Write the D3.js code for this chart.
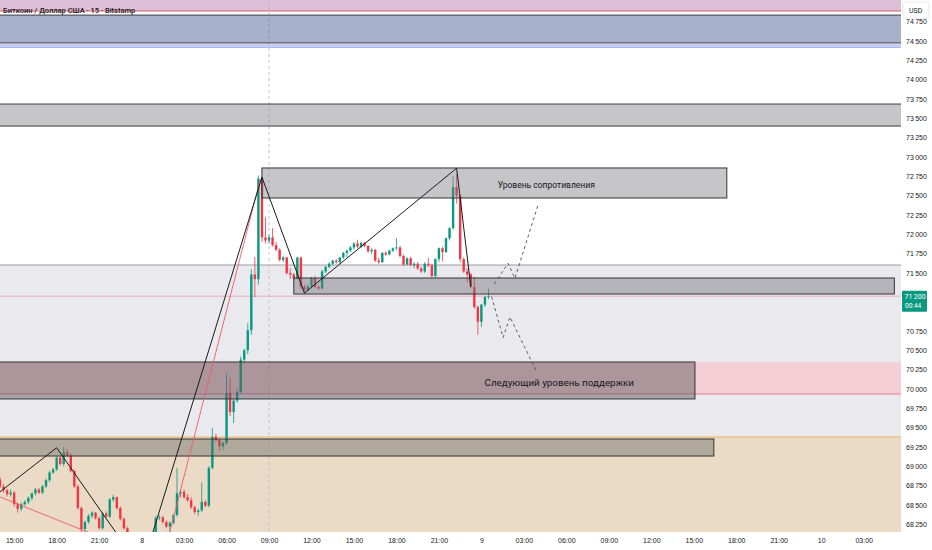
<!DOCTYPE html>
<html lang="ru">
<head>
<meta charset="UTF-8">
<title>Биткоин / Доллар США · 15</title>
<script src="https://d3js.org/d3.v7.min.js"></script>
<style>
  body { margin: 0; background: #fff; }
  svg { display: block; font-family: Roboto, 'Noto Sans', sans-serif; }
  .axis text { font-size: 7px; fill: #131722; }
  .axis path { display: none; }
</style>
</head>
<body>
<svg id="chart" width="932" height="550"></svg>
<script>
// 15 minute bars, first one opens 7 Apr 14:00 (UTC)
const firstBar = Date.UTC(2024, 3, 7, 14, 0);
const barMs = 15 * 60 * 1000;

const candleOpen = [
  68830,68740,68690,68640,68660,68510,68450,68510,68540,68590,
  68650,68700,68660,68740,68820,68920,68960,69110,69030,69180,
  69140,68940,68740,68460,68190,68280,68360,68400,68330,68200,
  68390,68350,68570,68600,68460,68320,68200,68130,68020,67980,
  68050,67970,68100,68040,68080,68330,68340,68280,68220,68270,
  68370,68650,68670,68600,68560,68470,68410,68430,68540,68490,
  68980,69380,69340,69260,69300,69950,69700,69850,69960,70380,
  70500,70760,71480,71420,72720,71960,71920,71960,71860,71800,
  71670,71700,71500,71480,71430,71700,71320,71280,71330,71430,
  71320,71300,71520,71580,71620,71660,71640,71700,71760,71790,
  71830,71880,71840,71890,71850,71780,71800,71660,71640,71760,
  71740,71790,71820,71830,71720,71610,71690,71600,71620,71560,
  71520,71620,71600,71460,71680,71820,71770,71950,72080,72610,
  72500,71680,71520,71480,71320,71060,70870,71090,71190
];
const candleHigh = [
  68860,68770,68710,68700,68680,68530,68530,68560,68610,68660,
  68720,68720,68760,68840,68940,68980,69130,69130,69250,69220,
  69170,68960,68760,68480,68300,68380,68420,68410,68350,68410,
  68420,68590,68630,68610,68480,68340,68220,68150,68130,68120,
  68110,68140,68145,68130,68360,68370,68360,68300,68290,68380,
  68980,68700,68700,68640,68600,68490,68450,68790,68560,69000,
  69500,69420,69360,69320,70200,70150,69880,70000,70420,70520,
  70850,71550,71710,72760,72740,72220,72000,72080,71900,71820,
  71720,71710,71560,71500,71710,71710,71350,71350,71450,71460,
  71340,71540,71590,71640,71670,71680,71710,71770,71800,71850,
  71900,71930,71900,71900,71860,71820,71810,71700,71770,71780,
  71800,71830,71950,71850,71740,71700,71710,71640,71640,71580,
  71640,71700,71620,71690,71830,71840,71960,72090,72750,72780,
  72520,71700,71560,71500,71450,71080,71100,71200,71300
];
const candleLow = [
  68720,68660,68610,68610,68480,68400,68420,68490,68510,68560,
  68620,68640,68640,68720,68800,68900,68940,69010,69000,69120,
  68920,68720,68440,68150,68160,68260,68330,68310,68180,68180,
  68330,68330,68540,68440,68300,68180,68110,67960,67920,67900,
  67930,67950,67980,67960,68060,68300,68260,68200,68150,68250,
  68350,68600,68580,68540,68450,68380,68360,68410,68470,68470,
  68960,69320,69200,69210,69280,69650,69560,69820,69940,70330,
  70450,70700,71190,71350,71900,71880,71880,71840,71780,71650,
  71640,71480,71420,71400,71420,71290,71240,71260,71300,71300,
  71280,71290,71500,71560,71600,71620,71620,71680,71700,71770,
  71800,71820,71820,71830,71760,71740,71640,71620,71630,71720,
  71730,71770,71790,71700,71590,71600,71590,71560,71540,71500,
  71500,71580,71440,71440,71640,71650,71760,71920,72060,72400,
  71640,71500,71380,71300,71040,70700,70800,71060,71160
];
const candleClose = [
  68740,68690,68640,68660,68510,68450,68510,68540,68590,68650,
  68700,68660,68740,68820,68920,68960,69110,69030,69180,69140,
  68940,68740,68460,68190,68280,68360,68400,68330,68200,68390,
  68350,68570,68600,68460,68320,68200,68130,68020,67980,68050,
  67970,68100,68040,68080,68330,68340,68280,68220,68270,68370,
  68650,68670,68600,68560,68470,68410,68430,68540,68490,68980,
  69380,69340,69260,69300,69950,69700,69850,69960,70380,70500,
  70760,71480,71420,72720,71960,71920,71960,71860,71800,71670,
  71700,71500,71480,71430,71700,71320,71280,71330,71430,71320,
  71300,71520,71580,71620,71660,71640,71700,71760,71790,71830,
  71880,71840,71890,71850,71780,71800,71660,71640,71760,71740,
  71790,71820,71830,71720,71610,71690,71600,71620,71560,71520,
  71620,71600,71460,71680,71820,71770,71950,72080,72610,72500,
  71680,71520,71480,71320,71060,70870,71090,71190,71200
];

// price scale labels (71 250 and 71 000 sit under the last price tag)
const priceTicks = [68250,68500,68750,69000,69250,69500,69750,70000,70250,70500,70750,
  71500,71750,72000,72250,72500,72750,73000,73250,73500,73750,74000,74250,74500,74750];
const lastPrice = 71200;
const barCountdown = "00:44";

// horizontal zones across the whole chart: [upper price, lower price]
const pinkTopFrom = 74888;
const blueZone = [74835, 74475];
const blueLines = [74448, 74420];
const grayZone = [73685, 73400];
const lightZone = [71603, 69379];
const pinkZone = [70349, 69935];
const tanFrom = 69379;

// drawn rectangles: [start time, end time, upper price, lower price]
const resistanceBox = ["2024-04-08T08:30", "2024-04-09T17:20", 72858, 72470];
const rangeBox = ["2024-04-08T10:45", "2024-04-10T05:10", 71435, 71228];
const supportBox = ["2024-04-07T12:00", "2024-04-09T15:05", 70349, 69871];
const lowerBox = ["2024-04-07T12:00", "2024-04-09T16:25", 69353, 69133];

// trend lines
const blackZigzag = [["2024-04-07T14:00", 68670], ["2024-04-07T18:00", 69240], ["2024-04-08T00:00", 67670],
  ["2024-04-08T08:30", 72740], ["2024-04-08T11:30", 71240], ["2024-04-08T22:15", 72855], ["2024-04-08T23:15", 71323]];
const redZigzag = [["2024-04-07T14:00", 68604], ["2024-04-08T01:27", 67763], ["2024-04-08T08:22", 72702]];
const upScenario = [["2024-04-09T00:55", 71360], ["2024-04-09T01:53", 71625], ["2024-04-09T02:22", 71431], ["2024-04-09T04:00", 72379]];
const downScenario = [["2024-04-09T00:43", 71194], ["2024-04-09T01:32", 70666], ["2024-04-09T02:01", 70931], ["2024-04-09T03:54", 70224]];
const markerTime = "2024-04-08T09:00";

const labels = [
  { text: "Уровень сопротивления", time: "2024-04-09T04:35", price: 72640, size: 8.5 },
  { text: "Следующий уровень поддержки", time: "2024-04-09T05:30", price: 70080, size: 9.8 }
];

const T = s => new Date(s + ":00Z");

const svg = d3.select("#chart");
const plotW = 901, plotH = 532;

const x = d3.scaleUtc()
  .domain([new Date(firstBar), new Date(Date.UTC(2024, 3, 10, 5, 36))])
  .range([0, 900.5]);
const y = d3.scaleLinear().domain([68250, 74500]).range([524.3, 41]);

svg.append("defs").append("clipPath").attr("id", "plot")
  .append("rect").attr("width", plotW).attr("height", plotH);

const plot = svg.append("g").attr("clip-path", "url(#plot)");

// background zones
const band = (top, bottom, fill) => plot.append("rect")
  .attr("x", 0).attr("width", plotW)
  .attr("y", y(top)).attr("height", y(bottom) - y(top)).attr("fill", fill);
const hline = (price, color, w) => plot.append("line")
  .attr("x1", 0).attr("x2", plotW).attr("y1", y(price)).attr("y2", y(price))
  .attr("stroke", color).attr("stroke-width", w);

band(76000, pinkTopFrom, "#dfbfd7");
hline(pinkTopFrom, "#e0606f", 1);
band(lightZone[0], lightZone[1], "#eaeaee");
hline(lightZone[0], "#9a9aa0", 1);
band(pinkZone[0], pinkZone[1], "#f4d0d6");
hline(pinkZone[1], "#e5788a", 1);
band(tanFrom, 66000, "#ebdbc6");
hline(tanFrom, "#f0b45a", 1.2);

// vertical dashed marker
plot.append("line")
  .attr("x1", x(T(markerTime))).attr("x2", x(T(markerTime)))
  .attr("y1", 0).attr("y2", plotH)
  .attr("stroke", "#b8b8c0").attr("stroke-width", 0.8).attr("stroke-dasharray", "3,3");

// last price line
hline(lastPrice, "#e9a0aa", 0.8);

// candles
const candles = candleOpen.map((o, i) => ({
  t: new Date(firstBar + i * barMs), o, h: candleHigh[i], l: candleLow[i], c: candleClose[i]
}));
const barW = (x(new Date(firstBar + barMs)) - x(new Date(firstBar))) * 0.68;
const up = "#089981", down = "#f23645";

const cg = plot.append("g");
cg.selectAll("line.wick").data(candles).join("line")
  .attr("class", "wick")
  .attr("x1", d => x(d.t)).attr("x2", d => x(d.t))
  .attr("y1", d => y(d.h)).attr("y2", d => y(d.l))
  .attr("stroke", d => d.c >= d.o ? up : down).attr("stroke-width", 0.8);
cg.selectAll("rect.body").data(candles).join("rect")
  .attr("class", "body")
  .attr("x", d => x(d.t) - barW / 2).attr("width", barW)
  .attr("y", d => y(Math.max(d.o, d.c)))
  .attr("height", d => Math.max(0.8, Math.abs(y(d.o) - y(d.c))))
  .attr("fill", d => d.c >= d.o ? up : down);

// full width zones drawn over the price
const zoneBox = (top, bottom, fill) => plot.append("rect")
  .attr("x", -2).attr("width", plotW + 4)
  .attr("y", y(top)).attr("height", y(bottom) - y(top))
  .attr("fill", fill).attr("stroke", "#3c3c44").attr("stroke-width", 1);
zoneBox(blueZone[0], blueZone[1], "rgba(60,82,140,0.45)");
blueLines.forEach(p => hline(p, "#8fa0f0", 1.2));
zoneBox(grayZone[0], grayZone[1], "rgba(120,120,126,0.42)");

// rectangles
const box = (b, fill) => plot.append("rect")
  .attr("x", x(T(b[0]))).attr("width", x(T(b[1])) - x(T(b[0])))
  .attr("y", y(b[2])).attr("height", y(b[3]) - y(b[2]))
  .attr("fill", fill).attr("stroke", "#333338").attr("stroke-width", 1);
box(resistanceBox, "rgba(120,120,126,0.42)");
box(rangeBox, "rgba(115,115,122,0.45)");
box(supportBox, "rgba(100,92,98,0.5)");
box(lowerBox, "rgba(100,100,100,0.42)");

// lines
const path = d3.line().x(d => x(T(d[0]))).y(d => y(d[1]));
plot.append("path").attr("d", path(redZigzag))
  .attr("fill", "none").attr("stroke", "#ee5a66").attr("stroke-width", 0.9);
plot.append("path").attr("d", path(blackZigzag))
  .attr("fill", "none").attr("stroke", "#1a1a1a").attr("stroke-width", 1);
[upScenario, downScenario].forEach(s => plot.append("path").attr("d", path(s))
  .attr("fill", "none").attr("stroke", "#4a4a50").attr("stroke-width", 0.9)
  .attr("stroke-dasharray", "3,3"));

plot.selectAll("text.note").data(labels).join("text")
  .attr("class", "note")
  .attr("x", d => x(T(d.time))).attr("y", d => y(d.price))
  .attr("dy", "0.35em").attr("text-anchor", "middle")
  .attr("font-size", d => d.size).attr("fill", "#131722")
  .text(d => d.text);

// axes
const fmtDay = d3.utcFormat("%-d"), fmtHour = d3.utcFormat("%H:%M");
svg.append("g").attr("class", "axis")
  .attr("transform", `translate(0,${plotH})`)
  .call(d3.axisBottom(x).ticks(d3.utcHour.every(3)).tickSize(0).tickPadding(6)
    .tickFormat(d => d.getUTCHours() === 0 ? fmtDay(d) : fmtHour(d)));

svg.append("g").attr("class", "axis")
  .attr("transform", `translate(${plotW},0)`)
  .call(d3.axisRight(y).tickValues(priceTicks).tickSize(0).tickPadding(5)
    .tickFormat(d => d3.format(",")(d).replace(",", "\u2009")));

// USD tag
svg.append("rect").attr("x", 903).attr("y", 2).attr("width", 26).attr("height", 16)
  .attr("fill", "#fff").attr("stroke", "#e0e3eb").attr("stroke-width", 0.8).attr("rx", 2);
svg.append("text").attr("x", 909).attr("y", 12.5).attr("font-size", 7).attr("fill", "#131722").text("USD");

// last price tag
const py = y(lastPrice);
svg.append("rect").attr("x", 902).attr("y", py - 5.5).attr("width", 25).attr("height", 21)
  .attr("fill", up).attr("rx", 1);
svg.append("text").attr("x", 904.5).attr("y", py + 2.5).attr("font-size", 7).attr("fill", "#fff")
  .text(d3.format(",")(lastPrice).replace(",", "\u2009"));
svg.append("text").attr("x", 905).attr("y", py + 11.5).attr("font-size", 6.5).attr("fill", "#fff")
  .text(barCountdown);

// title
svg.append("text").attr("x", 3).attr("y", 12.5).attr("font-size", 7.5).attr("font-weight", 500)
  .attr("fill", "#131722").text("Биткоин / Доллар США · 15 · Bitstamp");
</script>
</body>
</html>
